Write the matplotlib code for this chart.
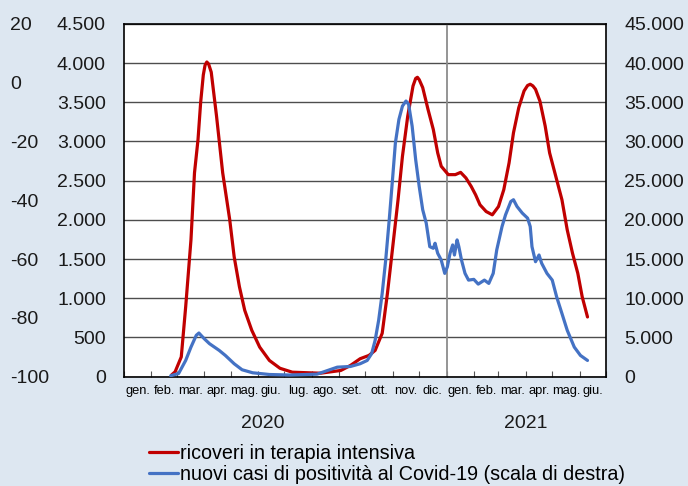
import matplotlib
matplotlib.use("Agg")
import matplotlib.pyplot as plt
import matplotlib.dates as mdates
import matplotlib.transforms as mtransforms
import numpy as np
import pandas as pd

plt.rcParams['font.family'] = ['Liberation Sans', 'DejaVu Sans']

# ---- data: ICU patients (left scale) ----
icu_dates = ["2020-02-24", "2020-02-28", "2020-03-06", "2020-03-11", "2020-03-17", "2020-03-21",
             "2020-03-25", "2020-03-28", "2020-03-31", "2020-04-02", "2020-04-04", "2020-04-06",
             "2020-04-09",
             "2020-04-15", "2020-04-22", "2020-04-30", "2020-05-05", "2020-05-11",
             "2020-05-17", "2020-05-25", "2020-06-03", "2020-06-14", "2020-06-26",
             "2020-07-10", "2020-08-11", "2020-09-03", "2020-09-14", "2020-09-25",
             "2020-10-05", "2020-10-12", "2020-10-20", "2020-10-26", "2020-11-01",
             "2020-11-07", "2020-11-12", "2020-11-18", "2020-11-24", "2020-11-27",
             "2020-11-29", "2020-12-01",
             "2020-12-05", "2020-12-11", "2020-12-17", "2020-12-22", "2020-12-26",
             "2021-01-03", "2021-01-11", "2021-01-17", "2021-01-23", "2021-01-29",
             "2021-02-03", "2021-02-08", "2021-02-15", "2021-02-22", "2021-03-01",
             "2021-03-07", "2021-03-13", "2021-03-18", "2021-03-24", "2021-03-30",
             "2021-04-03", "2021-04-06", "2021-04-09", "2021-04-12", "2021-04-17",
             "2021-04-23", "2021-04-28",
             "2021-05-06", "2021-05-12", "2021-05-18", "2021-05-24", "2021-05-30",
             "2021-06-04", "2021-06-10"]
icu_values = [20, 60, 250, 890, 1745, 2600,
              3025, 3500, 3850, 3975, 4015, 3990,
              3885,
              3325, 2600, 2000, 1530, 1145,
              845, 590, 375, 205, 105,
              55, 42, 77, 141, 227,
              269, 333, 551, 1064, 1658,
              2256, 2811, 3324, 3709, 3805,
              3820, 3790,
              3688, 3410, 3154, 2855, 2684,
              2577, 2577, 2606, 2535, 2427,
              2320, 2192, 2106, 2064, 2170,
              2385, 2727, 3111, 3432, 3645,
              3715, 3731, 3710, 3667, 3516,
              3196, 2855,
              2513, 2256, 1872, 1573, 1317,
              1017, 760]

# ---- data: new positive cases (right scale) ----
cases_dates = ["2020-02-23", "2020-03-03", "2020-03-11", "2020-03-17", "2020-03-23", "2020-03-26",
               "2020-04-01", "2020-04-07", "2020-04-18", "2020-04-25", "2020-05-05",
               "2020-05-14", "2020-05-26", "2020-06-14", "2020-07-07", "2020-08-07",
               "2020-08-30", "2020-09-14", "2020-09-25", "2020-10-03", "2020-10-08",
               "2020-10-12", "2020-10-16", "2020-10-20", "2020-10-24", "2020-10-28",
               "2020-11-01", "2020-11-04", "2020-11-08", "2020-11-12", "2020-11-16",
               "2020-11-19", "2020-11-23", "2020-11-27", "2020-12-01", "2020-12-05",
               "2020-12-09", "2020-12-13", "2020-12-17", "2020-12-19", "2020-12-22",
               "2020-12-26", "2020-12-30", "2021-01-02", "2021-01-05", "2021-01-08",
               "2021-01-10", "2021-01-13", "2021-01-15", "2021-01-18", "2021-01-22",
               "2021-01-26", "2021-02-01", "2021-02-06", "2021-02-13", "2021-02-18",
               "2021-02-23", "2021-02-27", "2021-03-05", "2021-03-09", "2021-03-15",
               "2021-03-18", "2021-03-22", "2021-03-28", "2021-04-03", "2021-04-06",
               "2021-04-08", "2021-04-12", "2021-04-16", "2021-04-19", "2021-04-25",
               "2021-05-01", "2021-05-06", "2021-05-12", "2021-05-18", "2021-05-26",
               "2021-06-02", "2021-06-10"]
cases_values = [100, 385, 2050, 3755, 5255, 5550,
                4830, 4190, 3335, 2690, 1630,
                860, 475, 255, 190, 300,
                1190, 1280, 1630, 2050, 2910,
                4615, 7180, 10600, 14870, 20000,
                25550, 29830, 32820, 34520, 35165,
                34740, 31960, 27690, 24270, 21280,
                19575, 16575, 16370, 17010, 15730,
                14870, 13165, 14010, 15730, 16795,
                15510, 17435, 16575, 14870, 13165,
                12305, 12400, 11795, 12305, 11885,
                13165, 16155, 19140, 20640, 22345,
                22565, 21705, 20860, 20215, 19140,
                16575, 14655, 15510, 14450, 13165,
                12305, 10165, 8040, 5900, 3755,
                2690, 2050]

left_ticks = [0, 500, 1000, 1500, 2000, 2500, 3000, 3500, 4000, 4500]
right_ticks = [0, 5000, 10000, 15000, 20000, 25000, 30000, 35000, 40000, 45000]
ghost_ticks = [-100, -80, -60, -40, -20, 0, 20]
month_labels = ["gen.", "feb.", "mar.", "apr.", "mag.", "giu.", "lug.", "ago.", "set.",
                "ott.", "nov.", "dic.", "gen.", "feb.", "mar.", "apr.", "mag.", "giu."]
year_labels = ["2020", "2021"]
year_label_dates = ["2020-06-07", "2021-04-01"]
series_labels = ["ricoveri in terapia intensiva",
                 "nuovi casi di positività al Covid-19 (scala di destra)"]

def it_fmt(v, pos=None):
    return f"{int(v):,}".replace(",", ".")

BG = "#dde7f1"
RED = "#c00000"
BLUE = "#4472c4"

fig = plt.figure(figsize=(6.88, 4.86), dpi=100, facecolor=BG)
W, H = 688, 486
L, R, T, B = 124, 606, 24, 376.5
rect = [L / W, 1 - B / H, (R - L) / W, (B - T) / H]

ax = fig.add_axes(rect)
ax.set_facecolor("white")
ax2 = ax.twinx()
ax3 = fig.add_axes(rect, frameon=False)
ax3.patch.set_alpha(0)

x0 = pd.Timestamp("2020-01-01")
x1 = pd.Timestamp("2021-07-01")

icu_x = pd.to_datetime(icu_dates)
cases_x = pd.to_datetime(cases_dates)

ax.set_xlim(x0, x1)
ax.set_ylim(0, 4500)
ax2.set_ylim(0, 45000)
ax3.set_ylim(-100, 20)
ax3.set_xticks([])

# gridlines
ax.set_yticks(left_ticks)
ax.yaxis.set_major_formatter(plt.FuncFormatter(it_fmt))
ax.grid(axis='y', color="#4d4d4d", lw=1.0)
ax.set_axisbelow(True)

# vertical separator at start of 2021
ax.axvline(pd.Timestamp("2021-01-01"), color="#8c8c8c", lw=1.3, zorder=1)

ax.plot(icu_x, icu_values, color=RED, lw=2.3, solid_capstyle='round',
        solid_joinstyle='round', zorder=3, label=series_labels[0])
ax2.plot(cases_x, cases_values, color=BLUE, lw=2.3, solid_capstyle='round',
         solid_joinstyle='round', zorder=3, label=series_labels[1])

# x axis: month boundaries as ticks, labels at mid-month
month_starts = pd.date_range(x0, x1, freq="MS")
mid_months = [ms + (me - ms) / 2 for ms, me in zip(month_starts[:-1], month_starts[1:])]
ax.set_xticks(month_starts)
ax.set_xticklabels([])
ax.tick_params(axis='x', which='major', direction='in', length=4, color="#555555", width=0.8)
ax.set_xticks(mid_months, minor=True)
ax.set_xticklabels(month_labels, minor=True, fontsize=9.3)
ax.tick_params(axis='x', which='minor', length=0, pad=6)

for s in ax.spines.values():
    s.set_color("black")
    s.set_linewidth(1.2)
for s in ax2.spines.values():
    s.set_visible(False)

ax.tick_params(axis='y', length=0, pad=13, labelsize=14, colors="#1a1a1a")
ax2.set_yticks(right_ticks)
ax2.yaxis.set_major_formatter(plt.FuncFormatter(it_fmt))
ax2.tick_params(axis='y', length=0, pad=13, labelsize=14, colors="#1a1a1a")

# ghost left scale
ax3.set_yticks(ghost_ticks)
ax3.set_yticklabels([str(v) for v in ghost_ticks])
ax3.tick_params(axis='y', length=0, pad=82, labelsize=14, colors="#1a1a1a")
for lab in ax3.get_yticklabels():
    lab.set_horizontalalignment('left')

# year labels
trans = mtransforms.blended_transform_factory(ax.transData, fig.transFigure)
for yl, yd in zip(year_labels, year_label_dates):
    ax.text(pd.Timestamp(yd), 1 - 423 / H, yl, transform=trans, ha='center', va='center',
            fontsize=14, color="#1a1a1a")

# legend
h1, l1 = ax.get_legend_handles_labels()
h2, l2 = ax2.get_legend_handles_labels()
fig.legend(h1 + h2, l1 + l2, loc='upper left', bbox_to_anchor=(149 / W, 1 - 444 / H),
           frameon=False, fontsize=14.2, handlelength=1.45, handletextpad=0.1,
           labelspacing=0.12, borderaxespad=0, borderpad=0)

fig.savefig("out.png", dpi=100, facecolor=BG)
